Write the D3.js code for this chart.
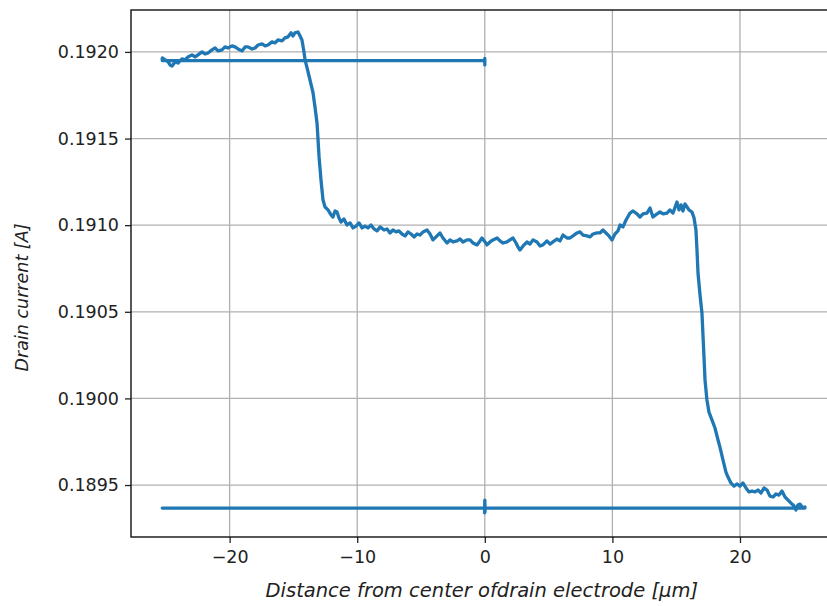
<!DOCTYPE html>
<html>
<head>
<meta charset="utf-8">
<script src="https://cdn.jsdelivr.net/npm/d3@7"></script>
<style>
  body { margin: 0; background: #fff; }
  svg text { font-family: "DejaVu Sans", sans-serif; fill: #222; }
</style>
</head>
<body>
<div id="chart"></div>
<script>
// hold at the top level before the scan (stage moving back from 0 to -25)
const holdTopX = [0.0, 0.0, 0.0, -0.05, -25.28];
const holdTopY = [0.191925, 0.191962, 0.191940, 0.19195, 0.19195];

// the scan across the drain electrode
const scanX = [
  -25.28, -25.05, -24.82, -24.67, -24.51, -24.28, -24.05, -23.73, -23.50, -23.26,
  -22.95, -22.71, -22.48, -22.16, -21.93, -21.69, -21.38, -21.14, -20.91, -20.60,
  -20.36, -20.13, -19.81, -19.58, -19.34, -19.03, -18.79, -18.56, -18.24, -18.01,
  -17.77, -17.46, -17.22, -16.99, -16.68, -16.44, -16.21, -15.89, -15.66, -15.42,
  -15.19, -15.03, -14.88, -14.64, -14.48, -14.33, -14.17, -14.09, -13.93, -13.70,
  -13.46, -13.31, -13.15, -13.07, -12.99, -12.84, -12.68, -12.52, -12.29, -12.05,
  -11.90, -11.74, -11.58, -11.43, -11.27, -11.04, -10.80, -10.56, -10.33, -10.09,
  -9.86, -9.62, -9.39, -9.15, -8.92, -8.68, -8.45, -8.21, -7.90, -7.66,
  -7.43, -7.20, -6.96, -6.73, -6.49, -6.25, -6.02, -5.78, -5.55, -5.31,
  -5.08, -4.84, -4.53, -4.29, -4.06, -3.74, -3.51, -3.28, -2.96, -2.73,
  -2.49, -2.18, -1.94, -1.71, -1.39, -1.16, -0.92, -0.61, -0.38, -0.22,
  0.02, 0.17, 0.41, 0.64, 0.96, 1.19, 1.43, 1.74, 1.97, 2.21,
  2.45, 2.60, 2.76, 3.00, 3.31, 3.54, 3.78, 4.09, 4.33, 4.56,
  4.87, 5.11, 5.34, 5.66, 5.89, 6.13, 6.44, 6.68, 6.91, 7.23,
  7.46, 7.70, 8.01, 8.25, 8.48, 8.79, 9.03, 9.26, 9.50, 9.73,
  9.97, 10.20, 10.44, 10.60, 10.83, 11.07, 11.38, 11.62, 11.93, 12.16,
  12.40, 12.71, 12.95, 13.18, 13.50, 13.73, 13.97, 14.28, 14.51, 14.75,
  14.98, 15.06, 15.22, 15.38, 15.53, 15.69, 15.85, 16.00, 16.24, 16.40,
  16.55, 16.63, 16.71, 16.87, 17.02, 17.10, 17.18, 17.26, 17.41, 17.57,
  17.81, 18.04, 18.28, 18.43, 18.67, 18.90, 19.06, 19.29, 19.53, 19.76,
  20.00, 20.23, 20.47, 20.71, 20.94, 21.18, 21.41, 21.65, 21.88, 22.12,
  22.35, 22.59, 22.82, 23.06, 23.29, 23.53, 23.77, 24.00, 24.24, 24.39,
  24.55, 24.70, 24.94, 25.09
];
const scanY = [
  0.191965, 0.191954, 0.191942, 0.191925, 0.191919, 0.191942, 0.191936, 0.191960, 0.191954, 0.191971,
  0.191983, 0.191971, 0.191983, 0.192000, 0.191988, 0.191994, 0.192012, 0.192023, 0.192006, 0.192012,
  0.192029, 0.192023, 0.192035, 0.192029, 0.192017, 0.192006, 0.192029, 0.192029, 0.192017, 0.192023,
  0.192040, 0.192046, 0.192035, 0.192040, 0.192058, 0.192052, 0.192069, 0.192064, 0.192081, 0.192087,
  0.192110, 0.192092, 0.192110, 0.192115, 0.192092, 0.192069, 0.192000, 0.191954, 0.191908, 0.191838,
  0.191763, 0.191682, 0.191590, 0.191492, 0.191394, 0.191261, 0.191145, 0.191105, 0.191088, 0.191059,
  0.191047, 0.191082, 0.191076, 0.191042, 0.191018, 0.191036, 0.191001, 0.191013, 0.190984, 0.190995,
  0.191013, 0.190984, 0.190995, 0.190984, 0.191001, 0.190978, 0.190967, 0.190990, 0.190972, 0.190978,
  0.190955, 0.190972, 0.190961, 0.190967, 0.190949, 0.190938, 0.190961, 0.190949, 0.190932, 0.190949,
  0.190943, 0.190961, 0.190972, 0.190949, 0.190915, 0.190938, 0.190955, 0.190926, 0.190897, 0.190915,
  0.190903, 0.190909, 0.190920, 0.190903, 0.190915, 0.190915, 0.190897, 0.190886, 0.190909, 0.190926,
  0.190903, 0.190886, 0.190903, 0.190915, 0.190926, 0.190909, 0.190897, 0.190903, 0.190915, 0.190926,
  0.190897, 0.190874, 0.190857, 0.190880, 0.190903, 0.190891, 0.190915, 0.190903, 0.190880, 0.190886,
  0.190909, 0.190891, 0.190903, 0.190920, 0.190909, 0.190943, 0.190926, 0.190926, 0.190938, 0.190955,
  0.190961, 0.190943, 0.190938, 0.190932, 0.190949, 0.190955, 0.190955, 0.190972, 0.190955, 0.190938,
  0.190915, 0.190949, 0.190967, 0.191001, 0.190990, 0.191030, 0.191070, 0.191082, 0.191065, 0.191047,
  0.191065, 0.191070, 0.191099, 0.191047, 0.191065, 0.191076, 0.191065, 0.191070, 0.191088, 0.191070,
  0.191117, 0.191134, 0.191088, 0.191117, 0.191082, 0.191122, 0.191105, 0.191088, 0.191076, 0.191042,
  0.190972, 0.190857, 0.190724, 0.190597, 0.190493, 0.190366, 0.190239, 0.190106, 0.189991, 0.189921,
  0.189875, 0.189829, 0.189760, 0.189719, 0.189644, 0.189575, 0.189546, 0.189512, 0.189494, 0.189506,
  0.189494, 0.189512, 0.189483, 0.189460, 0.189465, 0.189460, 0.189471, 0.189454, 0.189483, 0.189471,
  0.189436, 0.189431, 0.189448, 0.189442, 0.189465, 0.189431, 0.189413, 0.189396, 0.189379, 0.189356,
  0.189385, 0.189390, 0.189367, 0.189373
];

// hold at the bottom level after the scan (stage moving back from 25 to -25)
const holdBottomX = [25.09, 0.02, 0.0, -0.02, 0.0, 0.02, 0.0, -25.28];
const holdBottomY = [0.189367, 0.189367, 0.189412, 0.189340, 0.189405, 0.189345, 0.189367, 0.189367];

const xTicks = [-20, -10, 0, 10, 20];
const yTicks = [0.1895, 0.1900, 0.1905, 0.1910, 0.1915, 0.1920];
const xLabel = 'Distance from center ofdrain electrode [\u03bcm]';
const yLabel = 'Drain current [A]';

let width = 827, height = 606;
let margin = { top: 10, left: 131, bottom: 69 };
let plotW = 707.6, plotH = height - margin.top - margin.bottom;

let points = [];
holdTopX.forEach((d, i) => points.push([d, holdTopY[i]]));
scanX.forEach((d, i) => points.push([d, scanY[i]]));
holdBottomX.forEach((d, i) => points.push([d, holdBottomY[i]]));

let x = d3.scaleLinear().domain([-27.73, 27.73]).range([0, plotW]);
let y = d3.scaleLinear().domain([0.1892, 0.192242]).range([plotH, 0]);

let svg = d3.select('#chart').append('svg')
  .attr('width', width)
  .attr('height', height);

let g = svg.append('g')
  .attr('transform', 'translate(' + margin.left + ',' + margin.top + ')');

// grid
g.append('g').attr('class', 'grid')
  .selectAll('line.gx')
  .data(xTicks)
  .enter().append('line')
  .attr('x1', d => x(d)).attr('x2', d => x(d))
  .attr('y1', 0).attr('y2', plotH)
  .style('stroke', '#b0b0b0').style('stroke-width', 1.3);

g.select('.grid')
  .selectAll('line.gy')
  .data(yTicks)
  .enter().append('line')
  .attr('x1', 0).attr('x2', plotW)
  .attr('y1', d => y(d)).attr('y2', d => y(d))
  .style('stroke', '#b0b0b0').style('stroke-width', 1.3);

// trace
g.append('path')
  .datum(points)
  .attr('d', d3.line().x(d => x(d[0])).y(d => y(d[1])))
  .style('fill', 'none')
  .style('stroke', '#1f77b4')
  .style('stroke-width', 3.3)
  .style('stroke-linejoin', 'round')
  .style('stroke-linecap', 'round');

// axes
let xAxis = g.append('g')
  .attr('transform', 'translate(0,' + plotH + ')')
  .call(d3.axisBottom(x).tickValues(xTicks).tickSize(6).tickPadding(8).tickFormat(d3.format('d')));
let yAxis = g.append('g')
  .call(d3.axisLeft(y).tickValues(yTicks).tickSize(6).tickPadding(6).tickFormat(d3.format('.4f')));

[xAxis, yAxis].forEach(a => {
  a.select('.domain').remove();
  a.selectAll('line').style('stroke', '#222').style('stroke-width', 1.3);
  a.selectAll('text').style('font-size', '17.5px').style('fill', '#222');
});

// frame
g.append('rect')
  .attr('width', plotW).attr('height', plotH)
  .style('fill', 'none').style('stroke', '#111').style('stroke-width', 1.4);

svg.append('text')
  .attr('x', margin.left + x(0) - 3)
  .attr('y', 597)
  .attr('text-anchor', 'middle')
  .style('font-size', '19.5px')
  .style('font-style', 'italic')
  .text(xLabel);

svg.append('text')
  .attr('transform', 'translate(28,' + (margin.top + plotH / 2 + 24) + ') rotate(-90)')
  .attr('text-anchor', 'middle')
  .style('font-size', '17.5px')
  .style('font-style', 'italic')
  .text(yLabel);
</script>
</body>
</html>
